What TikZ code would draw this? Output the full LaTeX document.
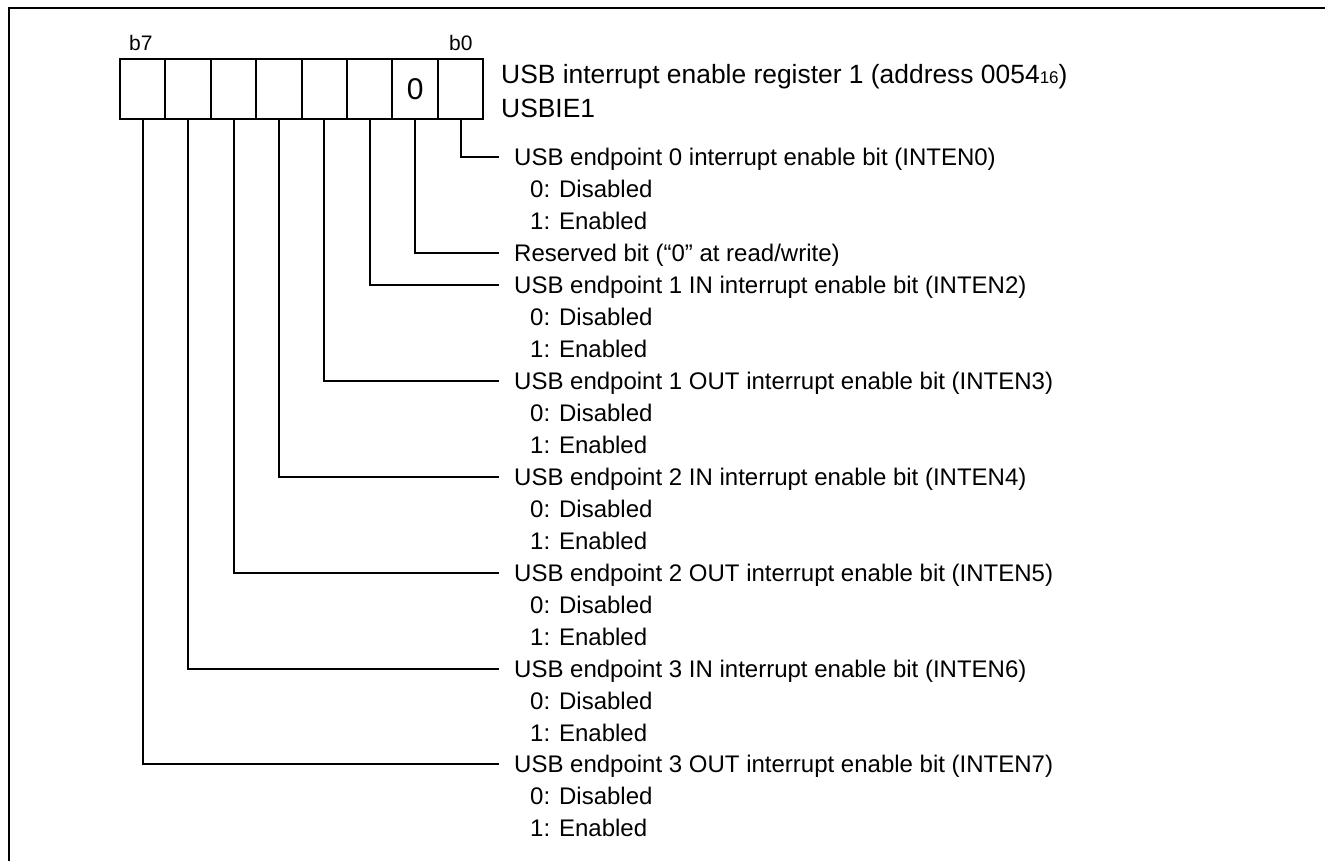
\documentclass[tikz,border=0pt]{standalone}
\usepackage{fontspec}
\setmainfont{Liberation Sans}
\begin{document}
\begin{tikzpicture}[x=1pt,y=-1pt,
  cell/.style={draw,line width=2pt,minimum width=45.4pt,minimum height=60pt,inner sep=0pt,outer sep=0pt},
  lbl/.style={anchor=base west,inner sep=0pt,font=\fontsize{24}{28}\selectfont},
  ttl/.style={anchor=base west,inner sep=0pt,font=\fontsize{26.4}{30}\selectfont},
  blab/.style={anchor=base west,inner sep=0pt,font=\fontsize{21}{24}\selectfont},
  conn/.style={line width=2pt},
  frame/.style={line width=2.3pt}]
\useasboundingbox (0,0) rectangle (1325,861);
% frame (top and left only)
\coordinate (fr1) at (1325,8);
\coordinate (fr2) at (9,8);
\coordinate (fr3) at (9,861);
\draw[frame] (fr1) -- (fr2) -- (fr3);
% register cells
\node[cell] (c7) at (142.7,89) {};
\node[cell] (c6) at (188.1,89) {};
\node[cell] (c5) at (233.5,89) {};
\node[cell] (c4) at (278.9,89) {};
\node[cell] (c3) at (324.3,89) {};
\node[cell] (c2) at (369.7,89) {};
\node[cell,font=\fontsize{30}{32}\selectfont] (c1) at (415.1,89) {0};
\node[cell] (c0) at (460.5,89) {};
% bit labels
\node[blab] (b7) at (129,51) {b7};
\node[blab] (b0) at (449,51) {b0};
% title
\node[ttl] (title) at (501,84) {USB interrupt enable register 1 (address 0054{\fontsize{17}{19}\selectfont 16})};
\node[ttl] (sym) at (501,118) {USBIE1};
% end points of connectors
\foreach \n/\k in {0/0,1/3,2/4,3/7,4/10,5/13,6/16,7/19}{
  \coordinate (e\n) at (499,{157.3+31.95*\k});
}
% descriptions
\node[lbl] (t0) at (514,{157.3+31.95*0+8.6}) {USB endpoint 0 interrupt enable bit (INTEN0)};
\node[lbl] (t0a) at (530,{157.3+31.95*1+8.6}) {0: Disabled};
\node[lbl] (t0b) at (530,{157.3+31.95*2+8.6}) {1: Enabled};
\node[lbl] (t1) at (514,{157.3+31.95*3+8.6}) {Reserved bit (“0” at read/write)};
\node[lbl] (t2) at (514,{157.3+31.95*4+8.6}) {USB endpoint 1 IN interrupt enable bit (INTEN2)};
\node[lbl] (t2a) at (530,{157.3+31.95*5+8.6}) {0: Disabled};
\node[lbl] (t2b) at (530,{157.3+31.95*6+8.6}) {1: Enabled};
\node[lbl] (t3) at (514,{157.3+31.95*7+8.6}) {USB endpoint 1 OUT interrupt enable bit (INTEN3)};
\node[lbl] (t3a) at (530,{157.3+31.95*8+8.6}) {0: Disabled};
\node[lbl] (t3b) at (530,{157.3+31.95*9+8.6}) {1: Enabled};
\node[lbl] (t4) at (514,{157.3+31.95*10+8.6}) {USB endpoint 2 IN interrupt enable bit (INTEN4)};
\node[lbl] (t4a) at (530,{157.3+31.95*11+8.6}) {0: Disabled};
\node[lbl] (t4b) at (530,{157.3+31.95*12+8.6}) {1: Enabled};
\node[lbl] (t5) at (514,{157.3+31.95*13+8.6}) {USB endpoint 2 OUT interrupt enable bit (INTEN5)};
\node[lbl] (t5a) at (530,{157.3+31.95*14+8.6}) {0: Disabled};
\node[lbl] (t5b) at (530,{157.3+31.95*15+8.6}) {1: Enabled};
\node[lbl] (t6) at (514,{157.3+31.95*16+8.6}) {USB endpoint 3 IN interrupt enable bit (INTEN6)};
\node[lbl] (t6a) at (530,{157.3+31.95*17+8.6}) {0: Disabled};
\node[lbl] (t6b) at (530,{157.3+31.95*18+8.6}) {1: Enabled};
\node[lbl] (t7) at (514,{157.3+31.95*19+8.6}) {USB endpoint 3 OUT interrupt enable bit (INTEN7)};
\node[lbl] (t7a) at (530,{157.3+31.95*20+8.6}) {0: Disabled};
\node[lbl] (t7b) at (530,{157.3+31.95*21+8.6}) {1: Enabled};
% connectors
\foreach \n in {0,...,7}{
  \draw[conn] (c\n.south) |- (e\n);
}
\end{tikzpicture}
\end{document}
